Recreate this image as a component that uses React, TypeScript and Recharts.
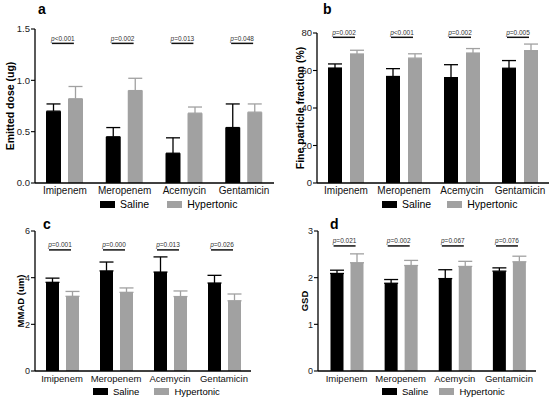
import React from "react";
import {
  BarChart,
  Bar,
  XAxis,
  YAxis,
  ErrorBar,
  Legend,
  ReferenceDot,
} from "recharts";

const FONT = '"Liberation Sans", Arial, sans-serif';
const BLACK = "#000000";
const GRAY = "#a1a1a1";

const categories = ["Imipenem", "Meropenem", "Acemycin", "Gentamicin"];
const seriesNames = ["Saline", "Hypertonic"];

// a - emitted dose
const doseSaline = [0.7, 0.45, 0.29, 0.54];
const doseSalineSd = [0.07, 0.09, 0.15, 0.23];
const doseHyper = [0.82, 0.9, 0.68, 0.69];
const doseHyperSd = [0.12, 0.12, 0.06, 0.08];
const doseP = ["p<0.001", "p=0.002", "p=0.013", "p=0.048"];

// b - fine particle fraction
const fpfSaline = [61.3, 56.8, 56.2, 61.2];
const fpfSalineSd = [2.2, 4.2, 6.9, 4.1];
const fpfHyper = [68.8, 66.6, 69.3, 70.6];
const fpfHyperSd = [2.0, 2.3, 2.4, 3.5];
const fpfP = ["p=0.002", "p<0.001", "p=0.002", "p=0.005"];

// c - MMAD
const mmadSaline = [3.8, 4.29, 4.24, 3.77];
const mmadSalineSd = [0.18, 0.38, 0.65, 0.33];
const mmadHyper = [3.2, 3.37, 3.19, 3.01];
const mmadHyperSd = [0.21, 0.19, 0.24, 0.29];
const mmadP = ["p=0.001", "p=0.000", "p=0.013", "p=0.026"];

// d - GSD
const gsdSaline = [2.09, 1.88, 1.98, 2.14];
const gsdSalineSd = [0.07, 0.08, 0.19, 0.07];
const gsdHyper = [2.32, 2.26, 2.24, 2.34];
const gsdHyperSd = [0.19, 0.11, 0.11, 0.12];
const gsdP = ["p=0.021", "p=0.002", "p=0.067", "p=0.076"];

const buildRows = (s: number[], sSd: number[], h: number[], hSd: number[]) =>
  categories.map((name, i) => ({
    name,
    saline: s[i],
    salineErr: [0, sSd[i]],
    hyper: h[i],
    hyperErr: [0, hSd[i]],
  }));

// p-value mark above each pair
const PMark = ({ cx, cy, text, font }: any) => {
  const x = cx - 2;
  return (
    <g>
      <text
        x={x}
        y={cy - 2.5}
        textAnchor="middle"
        fontSize={font}
        fill="#333"
        fontFamily={FONT}
      >
        <tspan fontStyle="italic">p</tspan>
        {text.slice(1)}
      </text>
      <line x1={x - 11} x2={x + 11} y1={cy} y2={cy} stroke="#111" strokeWidth={1.5} />
    </g>
  );
};

const makeLegend = (font: number, gap: number) => (props: any) => {
  const items = [...(props.payload || [])].sort(
    (a: any, b: any) => seriesNames.indexOf(a.value) - seriesNames.indexOf(b.value)
  );
  return (
    <div
      style={{
        display: "flex",
        alignItems: "center",
        height: 12,
        fontFamily: FONT,
        fontSize: font,
        color: "#000",
        whiteSpace: "nowrap",
      }}
    >
      {items.map((p: any, i: number) => (
        <div key={i} style={{ display: "flex", alignItems: "center", marginRight: gap }}>
          <span
            style={{
              display: "inline-block",
              width: 15,
              height: 7,
              background: p.color,
              marginRight: 5,
            }}
          />
          <span>{p.value}</span>
        </div>
      ))}
    </div>
  );
};

type PanelProps = {
  rows: any[];
  pLabels: string[];
  pLevel: number;
  ticks: number[];
  digits: number;
  title: string;
  box: { left: number; top: number; width: number; height: number };
  margin: { top: number; right: number; bottom: number; left: number };
  yWidth: number;
  titleX: number;
  padLeft: number;
  barSize: number;
  barGap: number;
  titleFont: number;
  xFont: number;
  yFont: number;
  legendPos: { left: number; top: number };
  legendFont: number;
  legendGap: number;
};

const Panel = (p: PanelProps) => (
  <div style={{ position: "absolute", left: p.box.left, top: p.box.top }}>
    <BarChart
      width={p.box.width}
      height={p.box.height}
      data={p.rows}
      margin={p.margin}
      barSize={p.barSize}
      barGap={p.barGap}
    >
      <XAxis
        dataKey="name"
        interval={0}
        height={17}
        tickLine={false}
        tickSize={0}
        tickMargin={4}
        padding={{ left: p.padLeft, right: 0 }}
        axisLine={{ stroke: "#000", strokeWidth: 1.3 }}
        tick={{ fontSize: p.xFont, fill: "#111", fontFamily: FONT }}
      />
      <YAxis
        width={p.yWidth}
        domain={[p.ticks[0], p.ticks[p.ticks.length - 1]]}
        ticks={p.ticks}
        interval={0}
        tickSize={4}
        tickMargin={1}
        tickFormatter={(v: number) => v.toFixed(p.digits)}
        axisLine={{ stroke: "#000", strokeWidth: 1.3 }}
        tickLine={{ stroke: "#000", strokeWidth: 1.1 }}
        tick={{ fontSize: p.yFont, fill: "#222", fontFamily: FONT }}
        label={{
          value: p.title,
          angle: -90,
          position: "insideLeft",
          offset: p.titleX,
          style: {
            textAnchor: "middle",
            fontSize: p.titleFont,
            fontWeight: "bold",
            fontFamily: FONT,
            fill: "#000",
          },
        }}
      />
      <Bar dataKey="saline" name={seriesNames[0]} fill={BLACK} isAnimationActive={false}>
        <ErrorBar
          dataKey="salineErr"
          direction="y"
          width={7}
          stroke={BLACK}
          strokeWidth={1.3}
          isAnimationActive={false}
        />
      </Bar>
      <Bar dataKey="hyper" name={seriesNames[1]} fill={GRAY} isAnimationActive={false}>
        <ErrorBar
          dataKey="hyperErr"
          direction="y"
          width={7}
          stroke={GRAY}
          strokeWidth={1.3}
          isAnimationActive={false}
        />
      </Bar>
      {categories.map((c, i) => (
        <ReferenceDot
          key={c}
          x={c}
          y={p.pLevel}
          r={0}
          shape={(sp: any) => (
            <PMark cx={sp.cx} cy={sp.cy} text={p.pLabels[i]} font={6.5} />
          )}
        />
      ))}
      <Legend
        layout="horizontal"
        verticalAlign="middle"
        align="center"
        content={makeLegend(p.legendFont, p.legendGap)}
        wrapperStyle={{
          left: p.legendPos.left,
          top: p.legendPos.top,
          width: "auto",
          height: 12,
        }}
      />
    </BarChart>
  </div>
);

const letters = [
  { t: "a", x: 38, y: 13.5 },
  { t: "b", x: 323, y: 14 },
  { t: "c", x: 43, y: 229 },
  { t: "d", x: 330, y: 229 },
];

export default function App() {
  return (
    <div
      style={{
        position: "absolute",
        left: 0,
        top: 0,
        width: 550,
        height: 398,
        background: "#fff",
        overflow: "hidden",
      }}
    >
      <Panel
        rows={buildRows(doseSaline, doseSalineSd, doseHyper, doseHyperSd)}
        pLabels={doseP}
        pLevel={1.36}
        ticks={[0, 0.5, 1, 1.5]}
        digits={1}
        title="Emitted dose (ug)"
        box={{ left: 0, top: 0, width: 275, height: 215 }}
        margin={{ top: 29, right: 1, bottom: 15, left: 0 }}
        yWidth={35}
        titleX={10}
        padLeft={0}
        barSize={15}
        barGap={7}
        titleFont={10.5}
        xFont={10}
        yFont={9.5}
        legendPos={{ left: 100, top: 198 }}
        legendFont={10.5}
        legendGap={18}
      />
      <Panel
        rows={buildRows(fpfSaline, fpfSalineSd, fpfHyper, fpfHyperSd)}
        pLabels={fpfP}
        pLevel={77.7}
        ticks={[0, 20, 40, 60, 80]}
        digits={0}
        title="Fine particle fraction (%)"
        box={{ left: 275, top: 0, width: 275, height: 215 }}
        margin={{ top: 33, right: 1, bottom: 15, left: 0 }}
        yWidth={42}
        titleX={25}
        padLeft={0}
        barSize={14}
        barGap={8}
        titleFont={10.5}
        xFont={10}
        yFont={9.5}
        legendPos={{ left: 107, top: 198 }}
        legendFont={10.5}
        legendGap={16}
      />
      <Panel
        rows={buildRows(mmadSaline, mmadSalineSd, mmadHyper, mmadHyperSd)}
        pLabels={mmadP}
        pLevel={5.19}
        ticks={[0, 2, 4, 6]}
        digits={0}
        title="MMAD (um)"
        box={{ left: 0, top: 215, width: 275, height: 183 }}
        margin={{ top: 16, right: 24, bottom: 10, left: 0 }}
        yWidth={35}
        titleX={21}
        padLeft={0}
        barSize={13}
        barGap={7}
        titleFont={9.5}
        xFont={9.5}
        yFont={9}
        legendPos={{ left: 93, top: 170 }}
        legendFont={9.5}
        legendGap={15}
      />
      <Panel
        rows={buildRows(gsdSaline, gsdSalineSd, gsdHyper, gsdHyperSd)}
        pLabels={gsdP}
        pLevel={2.68}
        ticks={[0, 1, 2, 3]}
        digits={0}
        title="GSD"
        box={{ left: 275, top: 215, width: 275, height: 183 }}
        margin={{ top: 16, right: 14, bottom: 10, left: 0 }}
        yWidth={43}
        titleX={29.5}
        padLeft={1.5}
        barSize={13}
        barGap={7}
        titleFont={9.5}
        xFont={9.5}
        yFont={9}
        legendPos={{ left: 107, top: 170 }}
        legendFont={9.5}
        legendGap={11}
      />
      <svg
        width={550}
        height={398}
        style={{ position: "absolute", left: 0, top: 0, pointerEvents: "none" }}
      >
        {letters.map((l) => (
          <text
            key={l.t}
            x={l.x}
            y={l.y}
            fontSize={14}
            fontWeight="bold"
            fontFamily={FONT}
            fill="#000"
          >
            {l.t}
          </text>
        ))}
      </svg>
    </div>
  );
}
